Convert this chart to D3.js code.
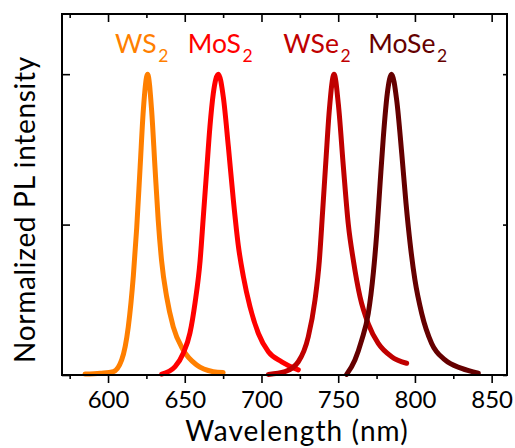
<!DOCTYPE html>
<html>
<head>
<meta charset="utf-8">
<script src="https://cdn.jsdelivr.net/npm/d3@7"></script>
<style>
  html, body { margin: 0; padding: 0; background: #fff; }
  svg { display: block; font-family: Lato, "Open Sans", sans-serif; }
</style>
</head>
<body>
<svg id="chart" width="515" height="448"></svg>
<script>
// Photoluminescence spectra of monolayer TMDs (normalized)
const ws2Wavelength   = [585, 595, 603.4, 608.9, 613.2, 616.5, 618.7, 620.9, 623, 625.8, 628.4, 630.6, 632.7, 634.9, 638.2, 642.5, 649, 657.8, 668.6, 675];
const ws2Intensity    = [0.003, 0.006, 0.011, 0.05, 0.16, 0.33, 0.49, 0.69, 0.88, 1.0, 0.88, 0.69, 0.515, 0.38, 0.26, 0.16, 0.083, 0.033, 0.011, 0.008];

const mos2Wavelength  = [635, 643.7, 649.1, 653.4, 656.7, 660, 662.1, 664.3, 666.4, 668.6, 671.9, 675.1, 678.4, 681.7, 684.9, 688.2, 692.5, 698, 704.5, 713.2, 724];
const mos2Intensity   = [0.003, 0.028, 0.073, 0.14, 0.24, 0.38, 0.526, 0.68, 0.825, 0.936, 1.0, 0.925, 0.76, 0.58, 0.43, 0.327, 0.227, 0.138, 0.077, 0.044, 0.017];

const wse2Wavelength  = [704.5, 715.3, 724, 730.5, 734.9, 737.7, 739.9, 742, 744.2, 747.3, 750.1, 753.4, 756.6, 759.9, 764.2, 769.6, 776.1, 784.8, 794.6];
const wse2Intensity   = [0.002, 0.011, 0.044, 0.127, 0.25, 0.38, 0.548, 0.714, 0.88, 1.0, 0.9, 0.69, 0.5, 0.38, 0.26, 0.17, 0.105, 0.061, 0.039];

const mose2Wavelength = [755.5, 760.9, 765.3, 769.6, 772.9, 775.1, 777.3, 779.4, 782, 784.8, 788.1, 791.4, 794.2, 796.8, 800, 804.4, 810.9, 819.6, 830.5, 841.3];
const mose2Intensity  = [0.002, 0.05, 0.116, 0.205, 0.34, 0.47, 0.637, 0.79, 0.936, 1.0, 0.914, 0.737, 0.57, 0.44, 0.316, 0.205, 0.105, 0.05, 0.022, 0.006];

const materials   = ["WS", "MoS", "WSe", "MoSe"];
const subscripts  = ["2", "2", "2", "2"];
const colors      = ["#FF7F00", "#FF0000", "#C00000", "#650000"];

const xMajorTicks = [600, 650, 700, 750, 800, 850];
const xMinorTicks = [575, 625, 675, 725, 775, 825];
const yTicks      = [0, 0.5, 1];

const spectra = [
  { w: ws2Wavelength,   v: ws2Intensity },
  { w: mos2Wavelength,  v: mos2Intensity },
  { w: wse2Wavelength,  v: wse2Intensity },
  { w: mose2Wavelength, v: mose2Intensity }
];

const svg = d3.select("#chart");
const W = 515, H = 448;
const margin = { left: 62, right: 8, top: 14, bottom: 73 };
const x0 = margin.left, x1 = W - margin.right;
const y0 = H - margin.bottom, y1 = margin.top;

const x = d3.scaleLinear().domain([570, 860]).range([x0, x1]);
const y = d3.scaleLinear().domain([0, 1.2]).range([y0, y1]);

// spectra
const line = d3.line()
  .x(d => x(d[0]))
  .y(d => y(d[1]))
  .curve(d3.curveMonotoneX);

svg.append("g")
  .selectAll("path")
  .data(spectra)
  .join("path")
  .attr("d", s => line(s.w.map((w, i) => [w, s.v[i]])))
  .attr("fill", "none")
  .attr("stroke", (s, i) => colors[i])
  .attr("stroke-width", 5)
  .attr("stroke-linecap", "round")
  .attr("stroke-linejoin", "round");

// axes
const axisStyle = g => {
  g.select(".domain").remove();
  g.selectAll(".tick line").attr("stroke", "#000").attr("stroke-width", 1.6);
};

// bottom major (outward, labelled)
svg.append("g")
  .attr("transform", `translate(0,${y0})`)
  .call(d3.axisBottom(x).tickValues(xMajorTicks).tickSize(8).tickPadding(7.5).tickFormat(d3.format("d")))
  .call(axisStyle)
  .call(g => g.selectAll("text")
    .attr("fill", "#000")
    .style("font-size", "24px")
    .style("font-family", "Lato, 'Open Sans', sans-serif"));

// bottom minor
svg.append("g")
  .attr("transform", `translate(0,${y0})`)
  .call(d3.axisBottom(x).tickValues(xMinorTicks).tickSize(4).tickFormat(""))
  .call(axisStyle);

// top ticks (inward)
svg.append("g")
  .attr("transform", `translate(0,${y1})`)
  .call(d3.axisTop(x).tickValues(xMajorTicks).tickSize(-8).tickFormat(""))
  .call(axisStyle);
svg.append("g")
  .attr("transform", `translate(0,${y1})`)
  .call(d3.axisTop(x).tickValues(xMinorTicks).tickSize(-4).tickFormat(""))
  .call(axisStyle);

// left ticks (inward, unlabelled)
svg.append("g")
  .attr("transform", `translate(${x0},0)`)
  .call(d3.axisLeft(y).tickValues(yTicks).tickSize(-8).tickFormat(""))
  .call(axisStyle);

// right ticks (inward, short)
svg.append("g")
  .attr("transform", `translate(${x1},0)`)
  .call(d3.axisRight(y).tickValues(yTicks).tickSize(-4).tickFormat(""))
  .call(axisStyle);

// frame
svg.append("rect")
  .attr("x", x0).attr("y", y1)
  .attr("width", x1 - x0).attr("height", y0 - y1)
  .attr("fill", "none")
  .attr("stroke", "#000")
  .attr("stroke-width", 2);

// material labels
const labelX = [115, 187.7, 283.3, 368.3];
const labels = svg.append("g")
  .selectAll("text")
  .data(materials)
  .join("text")
  .attr("x", (d, i) => labelX[i])
  .attr("y", 53.3)
  .attr("fill", (d, i) => colors[i])
  .style("font-size", "26.5px");
labels.append("tspan").text(d => d);
labels.append("tspan")
  .attr("dx", 1.5)
  .attr("dy", 8.4)
  .style("font-size", "17.5px")
  .text((d, i) => subscripts[i]);

// axis titles
svg.append("text")
  .attr("x", (x0 + x1) / 2 + 12.5)
  .attr("y", 441)
  .attr("text-anchor", "middle")
  .attr("fill", "#000")
  .style("font-size", "28px")
  .style("letter-spacing", "1.1px")
  .text("Wavelength (nm)");

svg.append("text")
  .attr("transform", `translate(35,209.5) rotate(-90)`)
  .attr("text-anchor", "middle")
  .attr("fill", "#000")
  .style("font-size", "28px")
  .style("letter-spacing", "0.7px")
  .text("Normalized PL intensity");
</script>
</body>
</html>
